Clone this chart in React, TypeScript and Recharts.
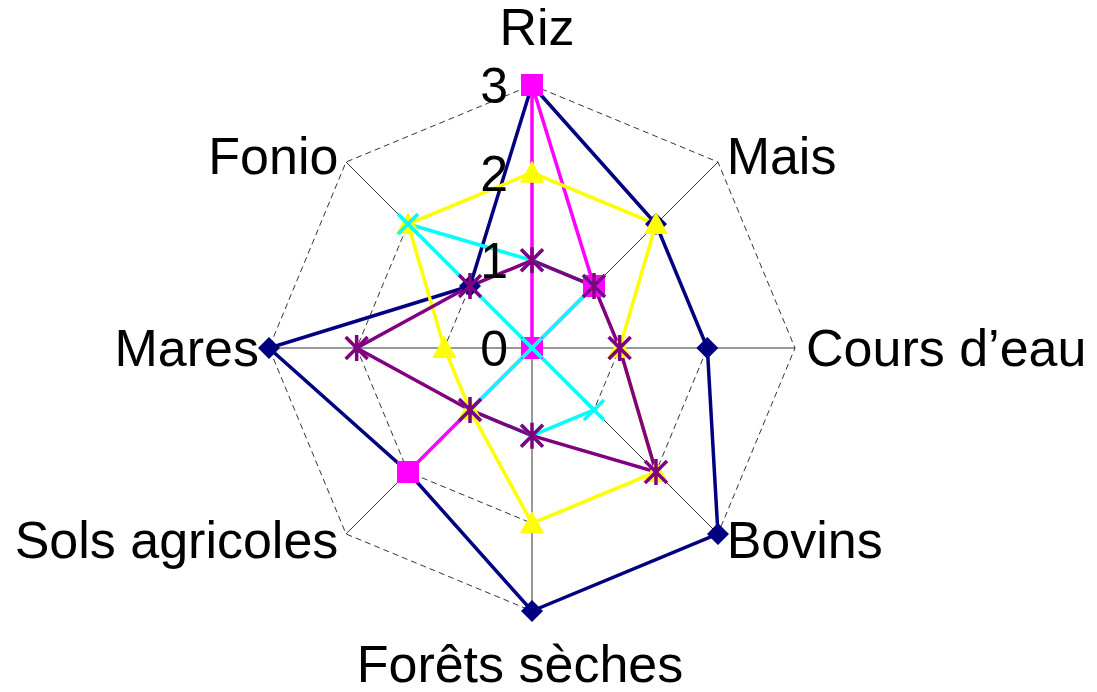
import React from "react";
import {PolarAngleAxis, PolarGrid, PolarRadiusAxis, Radar, RadarChart} from "recharts";

const categories = ["Riz", "Mais", "Cours d\u2019eau", "Bovins", "Forêts sèches", "Sols agricoles", "Mares", "Fonio"];
const navySeries = [3, 2, 2, 3, 3, 2, 3, 1];
const magentaSeries = [3, 1, 0, 0, 0, 2, 0, 0];
const yellowSeries = [2, 2, 1, 2, 2, 1, 1, 2];
const cyanSeries = [1, 1, 0, 1, 1, 1, 0, 2];
const purpleSeries = [1, 1, 1, 2, 1, 1, 2, 1];
const radiusTicks = [0, 1, 2, 3];

const data = categories.map((name, i) => ({
    name,
    navy: navySeries[i],
    magenta: magentaSeries[i],
    yellow: yellowSeries[i],
    cyan: cyanSeries[i],
    purple: purpleSeries[i],
}));

const FONT = "Arial, 'Liberation Sans', sans-serif";
const LW = 3.5;

const Diamond = (p: any) => {
    const {cx, cy} = p;
    const s = 11;
    return <path d={`M${cx},${cy - s}L${cx + s},${cy}L${cx},${cy + s}L${cx - s},${cy}Z`} fill="#000080" />;
};

const Square = (p: any) => {
    const {cx, cy} = p;
    const s = 11;
    return <rect x={cx - s} y={cy - s} width={s * 2} height={s * 2} fill="#FF00FF" />;
};

const Triangle = (p: any) => {
    const {cx, cy} = p;
    return <path d={`M${cx},${cy - 12}L${cx + 12},${cy + 10}L${cx - 12},${cy + 10}Z`} fill="#FFFF00" />;
};

const Cross = (p: any) => {
    const {cx, cy} = p;
    const s = 10;
    return (
        <path d={`M${cx - s},${cy - s}L${cx + s},${cy + s}M${cx - s},${cy + s}L${cx + s},${cy - s}`}
              stroke="#00FFFF" strokeWidth={LW} fill="none" />
    );
};

const Star = (p: any) => {
    const {cx, cy} = p;
    const s = 11;
    return (
        <path d={`M${cx - s},${cy - s}L${cx + s},${cy + s}M${cx - s},${cy + s}L${cx + s},${cy - s}M${cx},${cy - s - 2}L${cx},${cy + s + 2}`}
              stroke="#800080" strokeWidth={LW} fill="none" />
    );
};

const AngleTick = (p: any) => {
    const {x, y, payload, textAnchor} = p;
    let dy = 18;
    let dx = 0;
    if (payload.value === "Riz") { dy = -32; dx = 5; }
    if (payload.value === "Forêts sèches") { dy = 63; dx = -12; }
    if (textAnchor === "start") dx = 3;
    if (textAnchor === "end") dx = -2;
    return (
        <text x={x + dx} y={y + dy} textAnchor={textAnchor} fontSize={52} fontFamily={FONT} fill="#000">
            {payload.value}
        </text>
    );
};

const RadiusTick = (p: any) => {
    const {x, y, payload} = p;
    return (
        <text x={x - 24} y={y + 18} textAnchor="end" fontSize={50} fontFamily={FONT} fill="#000">
            {payload.value}
        </text>
    );
};

export default function App() {
    return (
        <div style={{width: 1081, height: 684, background: "#fff"}}>
            <style>{"svg{overflow:visible}"}</style>
            <RadarChart width={1081} height={684} data={data} cx={524} cy={340} outerRadius={263}
                        margin={{top: 0, right: 0, bottom: 0, left: 0}}>
                <PolarGrid gridType="polygon" radialLines={false} stroke="#000" strokeWidth={0.8} strokeDasharray="6 4" />
                <PolarGrid gridType="polygon" polarRadius={[]} stroke="#000" strokeWidth={0.8} />
                <PolarAngleAxis dataKey="name" axisLine={false} tickLine={false} tick={<AngleTick />} />
                <PolarRadiusAxis angle={90} domain={[0, 3]} ticks={radiusTicks} tickCount={4}
                                 axisLine={false} tickLine={false} tick={<RadiusTick />} />
                <Radar dataKey="navy" stroke="#000080" strokeWidth={LW} fill="none" fillOpacity={0}
                       dot={<Diamond />} isAnimationActive={false} />
                <Radar dataKey="magenta" stroke="#FF00FF" strokeWidth={LW} fill="none" fillOpacity={0}
                       dot={<Square />} isAnimationActive={false} />
                <Radar dataKey="yellow" stroke="#FFFF00" strokeWidth={LW} fill="none" fillOpacity={0}
                       dot={<Triangle />} isAnimationActive={false} />
                <Radar dataKey="cyan" stroke="#00FFFF" strokeWidth={LW} fill="none" fillOpacity={0}
                       dot={<Cross />} isAnimationActive={false} />
                <Radar dataKey="purple" stroke="#800080" strokeWidth={LW} fill="none" fillOpacity={0}
                       dot={<Star />} isAnimationActive={false} />
            </RadarChart>
        </div>
    );
}
